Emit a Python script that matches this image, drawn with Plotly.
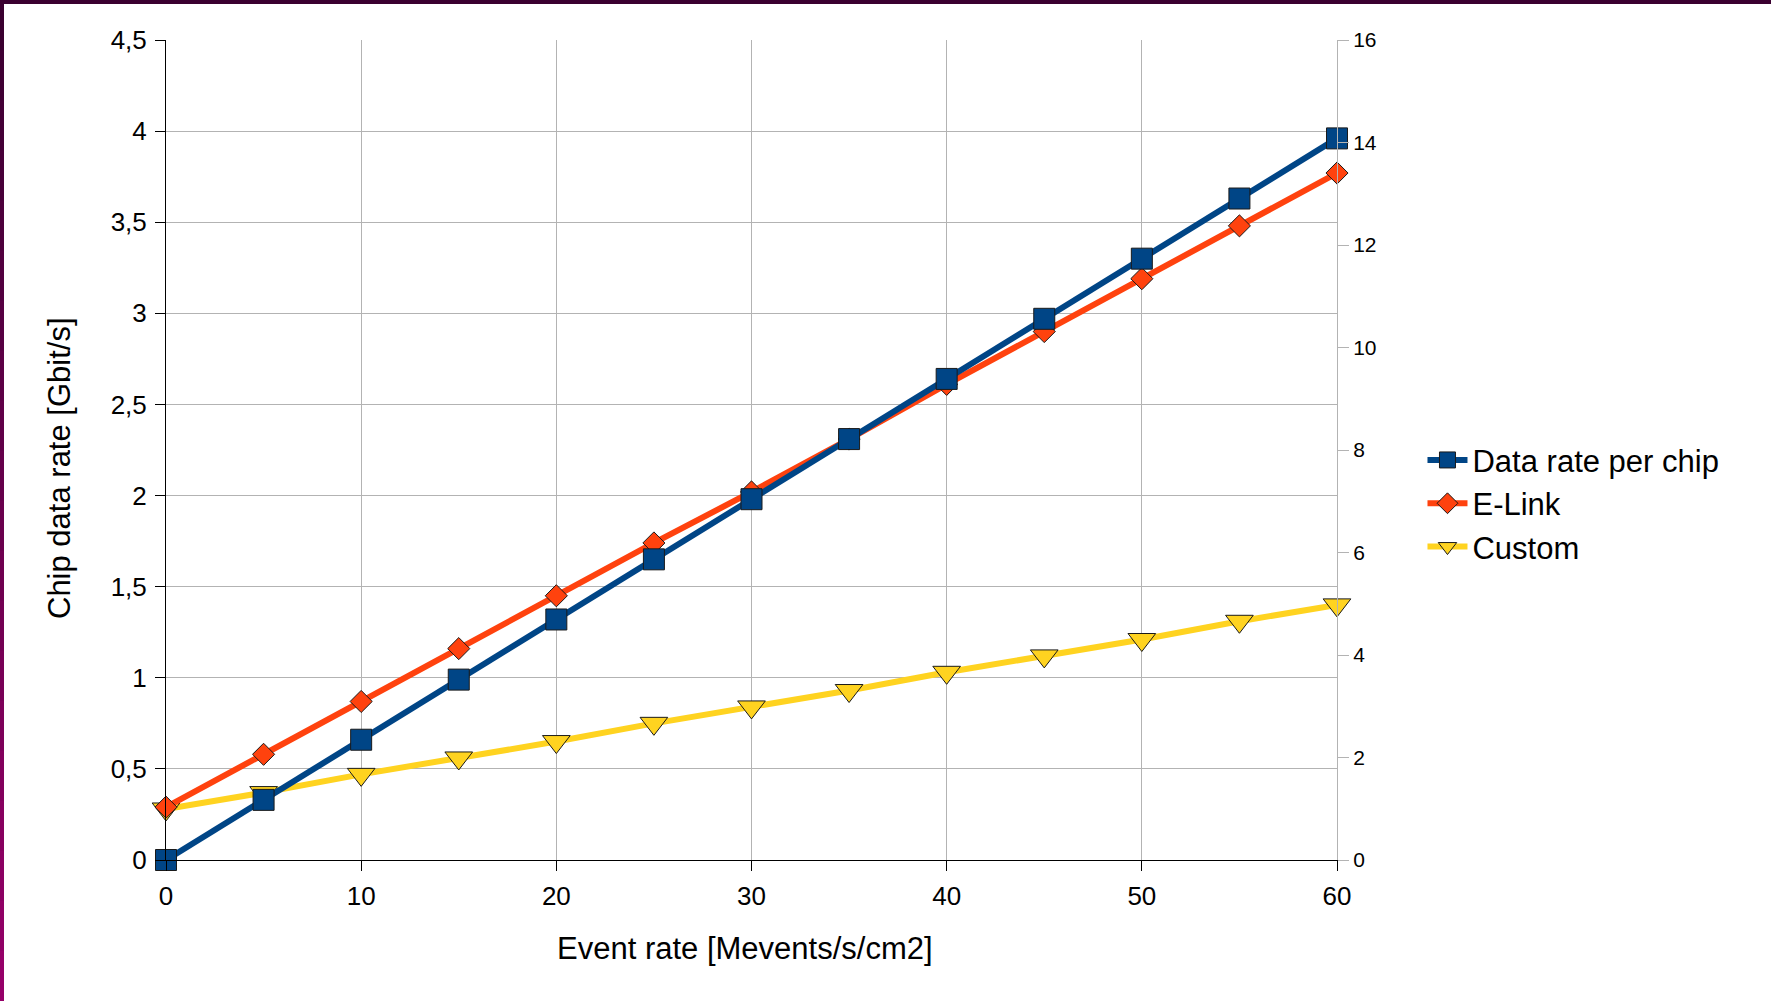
import plotly.graph_objects as go

event_rate = [0, 5, 10, 15, 20, 25, 30, 35, 40, 45, 50, 55, 60]
data_rate_per_chip = [0.0, 0.33, 0.66, 0.99, 1.32, 1.65, 1.98, 2.31, 2.64, 2.97, 3.30, 3.63, 3.96]
e_link = [0.29, 0.58, 0.87, 1.16, 1.45, 1.74, 2.02, 2.31, 2.61, 2.90, 3.19, 3.48, 3.77]
custom = [0.28, 0.37, 0.47, 0.56, 0.65, 0.75, 0.84, 0.93, 1.03, 1.12, 1.21, 1.31, 1.40]

series_names = ["Data rate per chip", "E-Link", "Custom"]
series_values = [data_rate_per_chip, e_link, custom]
colors = ["#004586", "#ff420e", "#ffd320"]
symbols = ["square", "diamond", "triangle-down"]
sizes = [21, 17, 24]

FONT = "Liberation Sans, Arial, sans-serif"

fig = go.Figure()
# draw Custom first so that the others sit on top of it; legend order reversed back
for name, vals, col, sym, sz in reversed(list(zip(series_names, series_values, colors, symbols, sizes))):
    fig.add_trace(go.Scatter(
        x=event_rate, y=vals, name=name, mode="lines+markers",
        line=dict(color=col, width=6),
        marker=dict(symbol=sym, size=sz, color=col, line=dict(color="#1a1a1a", width=1)),
        cliponaxis=False,
    ))

# dummy trace so the secondary axis is drawn
fig.add_trace(go.Scatter(x=[None], y=[None], yaxis="y2", showlegend=False, hoverinfo="skip"))

grid = "#b3b3b3"

# decorative slide border (top and left)
shapes = [dict(type="rect", xref="paper", yref="paper", x0=-0.2, x1=1.5, y0=1.0 + 36/820, y1=1.1,
               fillcolor="#3a0030", line=dict(width=0), layer="above")]
n = 20
top_rgb = (0x3a, 0x00, 0x30)
bot_rgb = (0x95, 0x00, 0x68)
for i in range(n):
    t = i / (n - 1)
    c = tuple(int(round(a + (b - a) * t)) for a, b in zip(top_rgb, bot_rgb))
    y_top = 1.0 + 40/820 - i * (1001/820) / n
    y_bot = y_top - (1001/820) / n - 0.002
    shapes.append(dict(type="rect", xref="paper", yref="paper",
                       x0=-166/1171, x1=-162/1171, y0=y_bot, y1=y_top,
                       fillcolor="rgb(%d,%d,%d)" % c, line=dict(width=0), layer="above"))

annotations = [
    dict(text="Event rate [Mevents/s/cm2]", xref="paper", yref="paper", x=0.4945, y=-0.1085,
         xanchor="center", yanchor="middle", showarrow=False,
         font=dict(size=31, family=FONT, color="black")),
    dict(text="Chip data rate [Gbit/s]", xref="paper", yref="paper", x=-0.0914, y=0.478,
         xanchor="center", yanchor="middle", showarrow=False, textangle=-90,
         font=dict(size=31, family=FONT, color="black")),
]

fig.update_layout(
    width=1771, height=1001,
    margin=dict(l=166, r=434, t=40, b=141),
    paper_bgcolor="white", plot_bgcolor="white",
    separators=",.",
    font=dict(family=FONT, color="black"),
    showlegend=True,
    legend=dict(x=1.073, y=0.435, xanchor="left", yanchor="middle",
                font=dict(size=31, family=FONT, color="black"),
                bgcolor="rgba(0,0,0,0)", tracegroupgap=0, traceorder="reversed",
                itemwidth=40),
    xaxis=dict(range=[0, 60], dtick=10, tick0=0, showgrid=True, gridcolor=grid, gridwidth=1,
               zeroline=False, showline=True, linecolor="black", linewidth=1,
               ticks="outside", ticklen=10, tickcolor="black", ticklabelstandoff=3,
               tickfont=dict(size=26, family=FONT, color="black")),
    yaxis=dict(range=[0, 4.5], dtick=0.5, tick0=0, showgrid=True, gridcolor=grid, gridwidth=1,
               zeroline=False, showline=True, linecolor="black", linewidth=1,
               ticks="outside", ticklen=10, tickcolor="black", ticklabelstandoff=3,
               tickfont=dict(size=26, family=FONT, color="black")),
    yaxis2=dict(range=[0, 16], dtick=2, tick0=0, overlaying="y", side="right", showgrid=False,
                zeroline=False, showline=True, linecolor=grid, linewidth=1,
                ticks="outside", ticklen=11, tickcolor=grid,
                tickfont=dict(size=21, family=FONT, color="black")),
    shapes=shapes,
    annotations=annotations,
)

fig.write_html("out.html", config={"displayModeBar": False},
               post_script="document.body.style.margin='0';")
